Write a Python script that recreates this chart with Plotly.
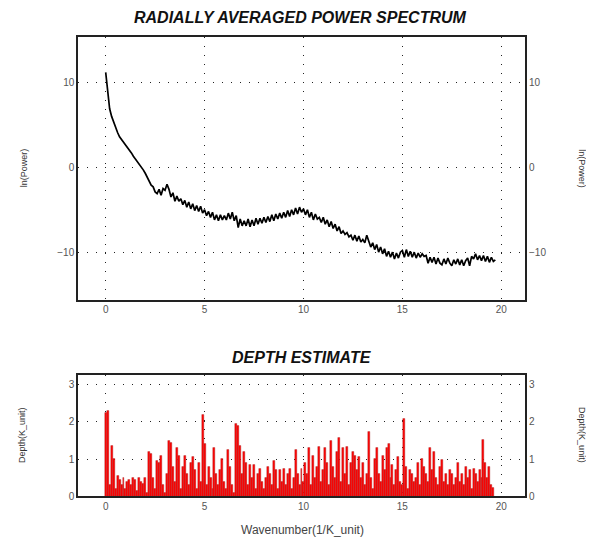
import plotly.graph_objects as go

STEP = 0.1
N_POINTS = 198
wavenumber = [round(i * STEP, 2) for i in range(N_POINTS)]

ln_power = [
    11.2, 8.6, 6.9, 6.0, 5.3, 4.6, 4.1, 3.6, 3.3, 2.9,
    2.6, 2.3, 2.0, 1.7, 1.3, 1.0, 0.7, 0.4, 0.0, -0.3,
    -0.7, -1.2, -1.5, -2.1, -2.3, -2.9, -3.1, -2.6, -3.3, -2.5,
    -2.7, -2.0, -2.6, -3.5, -3.0, -4.0, -3.4, -4.0, -3.7, -4.4,
    -3.9, -4.7, -4.1, -4.9, -4.3, -5.1, -4.5, -5.2, -4.6, -5.4,
    -5.0, -5.7, -5.2, -5.9, -5.3, -6.2, -5.6, -6.3, -5.6, -6.2,
    -5.7, -6.2, -5.4, -6.1, -5.3, -6.3, -5.7, -7.1, -6.1, -6.9,
    -6.3, -6.9, -6.1, -7.0, -6.2, -6.9, -6.0, -6.7, -6.0, -6.6,
    -5.9, -6.5, -5.8, -6.4, -5.6, -6.3, -5.5, -6.1, -5.4, -6.0,
    -5.3, -5.9, -5.1, -5.8, -5.0, -5.6, -4.8, -5.5, -4.7, -5.3,
    -4.9, -5.6, -5.0, -5.9, -5.3, -6.2, -5.5, -6.1, -5.9, -6.5,
    -5.9, -6.7, -6.2, -7.0, -6.4, -7.2, -6.7, -7.5, -7.0, -7.8,
    -7.5, -7.9, -7.7, -8.2, -8.0, -8.6, -8.0, -8.7, -8.1, -8.8,
    -8.5, -8.9, -8.0, -8.6, -9.4, -8.9, -9.7, -9.1, -10.0, -9.4,
    -10.2, -9.6, -10.5, -9.9, -10.6, -10.0, -10.8, -10.1, -10.7, -10.0,
    -9.8, -10.6, -9.7, -10.5, -9.9, -10.6, -10.0, -10.7, -10.1, -10.6,
    -10.2, -10.5, -10.4, -11.3, -10.6, -11.2, -10.6, -11.4, -10.7, -11.3,
    -11.5, -10.8, -11.4, -10.7, -11.3, -11.6, -10.9, -11.4, -10.8, -11.5,
    -10.9, -11.6, -11.0, -10.7, -11.6, -10.5, -10.8, -10.2, -10.9, -10.4,
    -11.0, -10.4, -11.1, -10.5, -11.2, -10.6, -11.1, -10.9,
]

depth = [
    2.25, 2.3, 0.3, 1.37, 1.0, 0.2, 0.55, 0.45, 0.3, 0.5,
    0.2, 0.4, 0.45, 0.3, 0.5, 0.45, 0.15, 0.5, 0.4, 0.35,
    0.5, 0.1, 1.2, 1.15, 0.5, 0.2, 0.95, 0.9, 1.1, 0.3,
    0.1, 0.6, 1.5, 1.45, 0.8, 0.4, 1.3, 1.1, 0.2, 0.8,
    1.1, 0.6, 0.3, 0.9, 1.05, 0.7, 0.2, 0.9, 0.4, 2.2,
    1.4, 0.3, 0.8, 0.5, 0.2, 1.3, 0.6, 0.3, 0.7, 1.0,
    0.4, 0.2, 1.25, 0.8, 0.3, 0.1, 1.95, 1.9, 1.35, 0.6,
    1.2, 0.9, 0.3, 0.85, 0.5, 0.85, 0.2, 0.6, 0.75, 0.4,
    0.2, 0.5, 0.8, 0.6, 0.3, 0.95, 0.7, 0.2, 0.7, 0.4,
    0.75, 0.3, 0.6, 0.75, 0.2, 0.5, 1.25, 0.6, 0.3, 0.75,
    0.4, 0.9, 0.6, 1.3, 0.3, 1.1, 0.5, 0.8, 1.33, 0.4,
    0.7, 1.3, 0.9, 0.3, 1.48, 0.8, 0.5, 1.2, 1.56, 0.4,
    1.3, 0.6, 1.33, 0.3, 0.9, 1.2, 1.1, 0.7, 1.06, 0.5,
    0.9, 0.3, 0.6, 1.72, 0.5, 0.2, 1.0, 1.3, 0.6, 0.4,
    1.1, 0.7, 1.3, 1.42, 0.5, 0.85, 0.3, 0.7, 1.06, 0.4,
    0.3, 2.07, 0.8, 0.2, 0.7, 0.6, 0.4, 0.5, 0.9, 0.3,
    1.0, 0.8, 0.6, 0.4, 1.3, 0.7, 1.2, 0.5, 0.3, 0.8,
    0.98, 0.4, 0.6, 0.3, 0.7, 0.6, 0.3, 0.5, 0.9, 0.4,
    0.6, 0.3, 0.8, 0.5, 0.7, 0.2, 0.75, 0.6, 0.4, 0.7,
    0.5, 1.52, 0.9, 0.5, 0.8, 0.3, 0.23, 0.0,
]

x_ticks = [0, 5, 10, 15, 20]
power_ticks = [-10, 0, 10]
depth_ticks = [0, 1, 2, 3]

# page body has an 8px margin, so the figure is 16px smaller and shifted
W, H, OFF = 578, 529, 8


def px_x(x):
    return (x - OFF) / W


def px_y(y):
    return 1 - (y - OFF) / H


FONT = "Liberation Sans, Arial, sans-serif"
TICK_FONT = dict(family=FONT, size=10, color="#555555")
GRID = dict(showgrid=True, gridcolor="#222222", gridwidth=1, griddash="1px,8px")

fig = go.Figure()

fig.add_trace(go.Scatter(x=wavenumber, y=ln_power, mode="lines", line=dict(color="black", width=1.7),
                         xaxis="x", yaxis="y", showlegend=False, hoverinfo="skip"))
fig.add_trace(go.Scatter(x=wavenumber, y=ln_power, mode="lines", line=dict(width=0), opacity=0,
                         xaxis="x", yaxis="y2", showlegend=False, hoverinfo="skip"))
fig.add_trace(go.Bar(x=wavenumber, y=depth, width=STEP,
                     marker=dict(color="#ff0000", line=dict(color="#a33030", width=0.4)),
                     xaxis="x2", yaxis="y3", showlegend=False, hoverinfo="skip"))
fig.add_trace(go.Scatter(x=wavenumber, y=depth, mode="lines", line=dict(width=0), opacity=0,
                         xaxis="x2", yaxis="y4", showlegend=False, hoverinfo="skip"))

xd = [px_x(78), px_x(525)]
top_dom = [px_y(303), px_y(37)]
bot_dom = [px_y(502), px_y(379)]

axis_line = dict(showline=True, linecolor="#222222", linewidth=1.5, mirror=True, zeroline=False, ticks="")

fig.update_layout(
    width=W, height=H,
    margin=dict(l=0, r=0, t=0, b=0),
    paper_bgcolor="white", plot_bgcolor="white",
    bargap=0,
    xaxis=dict(domain=xd, anchor="y", range=[-1.4, 21.2], tickvals=x_ticks, tickfont=TICK_FONT, **axis_line, **GRID),
    yaxis=dict(domain=top_dom, anchor="x", range=[-15.6, 15.4], tickvals=power_ticks, tickfont=TICK_FONT, **axis_line, **GRID),
    yaxis2=dict(overlaying="y", side="right", anchor="x", range=[-15.6, 15.4], tickvals=power_ticks, tickfont=TICK_FONT,
                showgrid=False, zeroline=False, showline=False, ticks="", ticklabelstandoff=3),
    xaxis2=dict(domain=xd, anchor="y3", range=[-1.4, 21.2], tickvals=x_ticks, tickfont=TICK_FONT, **axis_line, **GRID),
    yaxis3=dict(domain=bot_dom, anchor="x2", range=[0, 3.26], tickvals=depth_ticks, tickfont=TICK_FONT, **axis_line, **GRID),
    yaxis4=dict(overlaying="y3", side="right", anchor="x2", range=[0, 3.26], tickvals=depth_ticks, tickfont=TICK_FONT,
                showgrid=False, zeroline=False, showline=False, ticks="", ticklabelstandoff=3),
)

title_font = dict(family=FONT, size=16, color="#111111")
label_font = dict(family=FONT, size=9, color="#333333")
annotations = [
    dict(text="<b><i>RADIALLY AVERAGED POWER SPECTRUM</i></b>", x=px_x(300), y=px_y(18), font=title_font),
    dict(text="<b><i>DEPTH ESTIMATE</i></b>", x=px_x(302), y=px_y(362), font=title_font),
    dict(text="Wavenumber(1/K_unit)", x=px_x(302), y=px_y(536), font=dict(family=FONT, size=12, color="#444444")),
    dict(text="ln(Power)", x=px_x(24), y=px_y(170), textangle=-90, font=label_font),
    dict(text="ln(Power)", x=px_x(582), y=px_y(170), textangle=90, font=label_font),
    dict(text="Depth(K_unit)", x=px_x(22), y=px_y(440), textangle=-90, font=label_font),
    dict(text="Depth(K_unit)", x=px_x(582), y=px_y(440), textangle=90, font=label_font),
]
for a in annotations:
    a.update(xref="paper", yref="paper", showarrow=False, xanchor="center", yanchor="middle")
fig.update_layout(annotations=annotations)

fig.write_html("out.html")
